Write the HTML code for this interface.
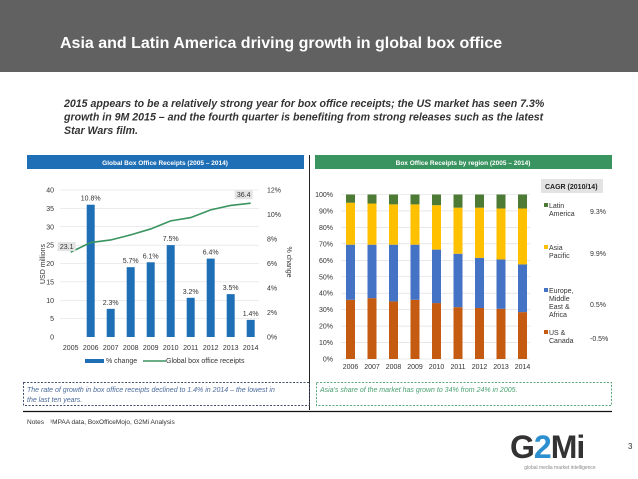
<!DOCTYPE html>
<html><head><meta charset="utf-8"><style>
body{margin:0;width:638px;height:479px;overflow:hidden;background:#fff;font-family:"Liberation Sans",sans-serif}
svg{display:block}
</style></head><body>
<svg width="638" height="479" viewBox="0 0 638 479" font-family="Liberation Sans, sans-serif">
<rect x="0" y="0" width="638" height="72" fill="#616161"/>
<text x="60" y="48" font-size="16" font-weight="bold" fill="#fff">Asia and Latin America driving growth in global box office</text>
<g font-size="10.6" font-weight="bold" font-style="italic" fill="#333">
<text x="64" y="107">2015 appears to be a relatively strong year for box office receipts; the US market has seen 7.3%</text>
<text x="64" y="120.5">growth in 9M 2015 – and the fourth quarter is benefiting from strong releases such as the latest</text>
<text x="64" y="134">Star Wars film.</text>
</g>
<rect x="27" y="155" width="277" height="14" fill="#1f6fb6"/>
<text x="165" y="165" font-size="6.5" font-weight="bold" fill="#fff" text-anchor="middle">Global Box Office Receipts (2005 – 2014)</text>
<rect x="315" y="155" width="297" height="14" fill="#3a9460"/>
<text x="463" y="165" font-size="6.5" font-weight="bold" fill="#fff" text-anchor="middle">Box Office Receipts by region (2005 – 2014)</text>
<line x1="309.5" y1="155" x2="309.5" y2="410" stroke="#222" stroke-width="1"/>
<g id="left"></g>
<g id="right"></g>
<rect x="23.5" y="382.5" width="286" height="23" fill="none" stroke="#444e6a" stroke-dasharray="2,1.5"/>
<g font-size="7" font-style="italic" fill="#4a6a9a"><text x="27" y="392">The rate of growth in box office receipts declined to 1.4% in 2014 – the lowest in</text><text x="27" y="402">the last ten years.</text></g>
<rect x="316.5" y="382.5" width="295" height="23" fill="none" stroke="#5aa97a" stroke-dasharray="2,1.5"/>
<text x="320" y="392" font-size="7" font-style="italic" fill="#4aa070">Asia's share of the market has grown to 34% from 24% in 2005.</text>
<line x1="23" y1="411.5" x2="612" y2="411.5" stroke="#111" stroke-width="1.2"/>
<text x="27" y="424" font-size="6.5" fill="#333">Notes</text>
<text x="50" y="424" font-size="6.5" fill="#333">¹MPAA data, BoxOfficeMojo, G2Mi Analysis</text>
<g>
<text x="510" y="458" font-size="32" font-weight="bold" fill="#333" letter-spacing="-1">G<tspan fill="#2c8fd0">2</tspan>Mi</text>
<text x="560" y="469" font-size="5" fill="#888" text-anchor="middle">global media market intelligence</text>
</g>
<text x="628" y="449" font-size="8" fill="#333">3</text>
</svg>
<script>
const years = ['2005','2006','2007','2008','2009','2010','2011','2012','2013','2014'];
const pctChange = [null,10.8,2.3,5.7,6.1,7.5,3.2,6.4,3.5,1.4];
const receipts = [23.1,25.7,26.4,27.8,29.4,31.6,32.5,34.6,35.8,36.4];
const leftTicks = [0,5,10,15,20,25,30,35,40];
const rightTicks = [0,2,4,6,8,10,12];

const regYears = ['2006','2007','2008','2009','2010','2011','2012','2013','2014'];
const usCanada = [36,37,35,36,34,31.5,31,30.5,28.5];
const emea = [33.5,32.5,34.5,33.5,32.5,32.5,30.5,30,29];
const asiaPac = [25.5,25,24.5,24.5,27,28,30.5,31,34];
const latam = [5,5.5,6,6,6.5,8,8,8.5,8.5];
const pctTicks = [0,10,20,30,40,50,60,70,80,90,100];
const legendNames = [['Latin','America'],['Asia','Pacific'],['Europe,','Middle','East &','Africa'],['US &','Canada']];
const cagr = ['9.3%','9.9%','0.5%','-0.5%'];

const NS='http://www.w3.org/2000/svg';
function mk(p,t,a,txt){const e=document.createElementNS(NS,t);for(const k in a)e.setAttribute(k,a[k]);if(txt!=null)e.textContent=txt;p.appendChild(e);return e;}

(function(){
// LEFT
const L=document.getElementById('left');
const x0=70.7, dx=20, pTop=190, pBot=337, pl=60, pr=259;
const yL=v=>pBot-(pBot-pTop)*v/40, yR=v=>pBot-(pBot-pTop)*v/12, xL=i=>x0+dx*i;
leftTicks.forEach(t=>{
  if(t>0){const g=mk(L,'line',{x1:pl,x2:pr,y1:yL(t),y2:yL(t),stroke:'#d9d9d9','stroke-width':0.6});
  
  }
  const e=mk(L,'text',{x:54,y:yL(t)+2.5,'font-size':7,'text-anchor':'end',fill:'#333'},t);
  
  
});
rightTicks.forEach(t=>{
  const e=mk(L,'text',{x:267,y:yR(t)+2.5,'font-size':7,fill:'#333'},t+'%');
  
  
});
let e=mk(L,'text',{x:0,y:0,'font-size':7,fill:'#333','text-anchor':'middle',transform:'translate(45,264) rotate(-90)'},'USD millions');


e=mk(L,'text',{x:0,y:0,'font-size':7,fill:'#333','text-anchor':'middle',transform:'translate(287,262) rotate(90)'},'% change');


years.forEach((y,i)=>{
  const t=mk(L,'text',{x:xL(i),y:350,'font-size':7,'text-anchor':'middle',fill:'#333'},y);
  
  
  const v=pctChange[i];
  if(v!=null){
    const b=mk(L,'rect',{x:xL(i)-4,y:yR(v),width:8,height:pBot-yR(v),fill:'#1f6fb6'});
    
    
    const l=mk(L,'text',{x:xL(i),y:yR(v)-4,'font-size':7,'text-anchor':'middle',fill:'#333'},v.toFixed(1)+'%');
    
    
  }
});
const line=mk(L,'polyline',{points:receipts.map((v,i)=>xL(i)+','+yL(v)).join(' '),fill:'none',stroke:'#3a9460','stroke-width':1.6});


[[0,-12,-9],[9,-15,-12]].forEach(([i,ox,oy])=>{
  const g=mk(L,'g',{});
  
  
  mk(g,'rect',{x:xL(i)+ox-1,y:yL(receipts[i])+oy-1,width:18,height:9,fill:'#e3e3e3'});
  mk(g,'text',{x:xL(i)+ox+8,y:yL(receipts[i])+oy+6,'font-size':7,'text-anchor':'middle',fill:'#333'},receipts[i].toFixed(1));
});
e=mk(L,'rect',{x:85,y:359,width:19,height:4,fill:'#1f6fb6'});


e=mk(L,'text',{x:106,y:363,'font-size':7,fill:'#333'},'% change');


e=mk(L,'line',{x1:143,x2:166,y1:361,y2:361,stroke:'#3a9460','stroke-width':1.6});


e=mk(L,'text',{x:166,y:363,'font-size':7,fill:'#333'},'Global box office receipts');



// RIGHT
const R=document.getElementById('right');
const rt=194.5, rb=359, rx0=350.5, rdx=21.5;
const yP=v=>rb-(rb-rt)*v/100, xP=i=>rx0+rdx*i;
pctTicks.forEach(t=>{
  const g=mk(R,'line',{x1:341,x2:530,y1:yP(t),y2:yP(t),stroke:'#d9d9d9','stroke-width':0.6});
  
  
  const e=mk(R,'text',{x:333,y:yP(t)+2.5,'font-size':7,'text-anchor':'end',fill:'#333'},t+'%');
  
  
});
const series=[[usCanada,'#c55a11','us-canada'],[emea,'#4472c4','emea'],[asiaPac,'#ffc000','asia-pacific'],[latam,'#4d7a35','latin-america']];
regYears.forEach((y,i)=>{
  let acc=0;
  series.forEach(([arr,c,n])=>{
    const v=arr[i];
    const b=mk(R,'rect',{x:xP(i)-4.5,y:yP(acc+v),width:9,height:yP(acc)-yP(acc+v),fill:c});
    
    
    acc+=v;
  });
  const t=mk(R,'text',{x:xP(i),y:369,'font-size':7,'text-anchor':'middle',fill:'#333'},y);
  
  
});
e=mk(R,'rect',{x:541,y:179,width:62,height:14,fill:'#e3e3e3'});


e=mk(R,'text',{x:545,y:189,'font-size':7,'font-weight':'bold',fill:'#222'},'CAGR (2010/14)');


const legY=[208,250,293,335], legC=['#4d7a35','#ffc000','#4472c4','#c55a11'];
legendNames.forEach((lines,k)=>{
  const g=mk(R,'g',{});
  
  
  mk(g,'rect',{x:544,y:legY[k]-5,width:4,height:4,fill:legC[k]});
  lines.forEach((s,j)=>mk(g,'text',{x:549,y:legY[k]+j*8,'font-size':7,fill:'#333'},s));
  const off=(lines.length-1)*4;
  mk(g,'text',{x:590,y:legY[k]+off+2,'font-size':7,fill:'#333'},cagr[k]);
});
})();
</script>
</body></html>
